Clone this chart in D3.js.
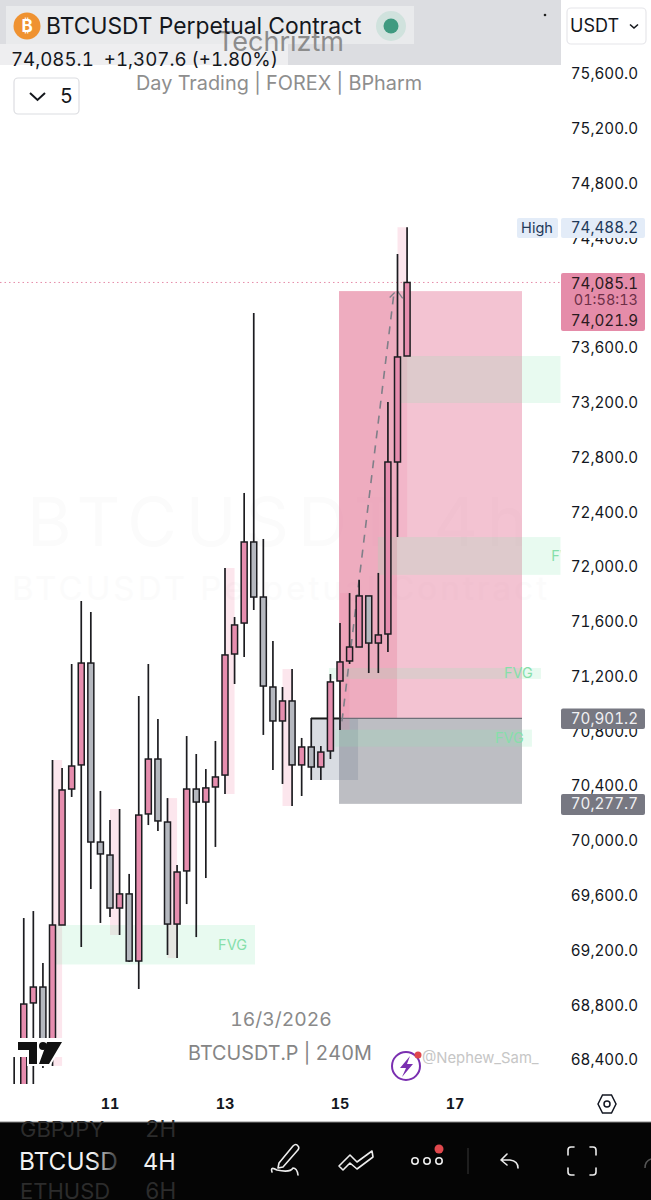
<!DOCTYPE html>
<html><head><meta charset="utf-8">
<script src="https://cdn.jsdelivr.net/npm/d3@7"></script>
<style>html,body{margin:0;padding:0;background:#fff}svg{display:block}text{font-family:Inter,"Liberation Sans",sans-serif;font-feature-settings:"tnum" 1}</style>
</head><body><svg id="c" width="651" height="1200"></svg>
<script>
const slots=[-10,-9,-8,-7,-6,-5,-4,-3,-2,-1,0,1,2,3,4,5,6,7,8,9,10,11,12,13,14,15,16,17,18,19,20,21,22,23,24,25,26,27,28,29,30,31];
const opens=[68152,68115,68824,68940,68495,69393,70386,70562,71306,69999,69904,69517,69620,69130,70204,70605,70145,69400,69788,70386,70291,70401,70488,71372,71598,72190,71788,71131,70883,71029,70562,70693,70547,70664,71175,71321,71423,71796,71452,71518,72774,73548];
const highs=[68429,69444,69495,69116,70598,70540,71299,71759,71679,70372,70160,70240,69766,71065,71299,70897,70320,69831,70773,70642,70532,70737,72000,71642,72548,73862,72212,71467,71131,71262,70759,70905,70700,71226,71598,71817,71912,71796,71964,73212,74293,74488.2];
const lows=[67969,67969,68115,68349,68364,69393,70328,69233,69656,69408,69452,69320,69123,68926,70123,70080,69174,69152,69546,69305,69736,69963,70350,71153,71350,71693,70781,70525,70423,70262,70335,70452,70452,70605,70817,71299,71423,71233,71233,71387,72226,73548];
const closes=[68042,68816,68940,68517,69393,70379,70554,71306,69999,69912,69517,69620,69130,70196,70605,70153,69400,69780,70386,70291,70394,70474,71365,71584,72190,71788,71138,70883,71029,70562,70693,70547,70656,71168,71314,71423,71796,71452,71511,72774,73541,74085.1];

const priceTicks=[75600,75200,74800,74400,73600,73200,72800,72400,72000,71600,71200,70800,70400,70000,69600,69200,68800,68400];
const dayTicks=[[0,"11"],[12,"13"],[24,"15"],[36,"17"]];
const highlightBands=[[-6,-5,70598,68364],[0,1,70240,69320],[6,7,70320,69152],[12,13,72000,70350],[18,19,71262,70262],[24,25,71817,70817],[30,31,74488.2,72226]];
const fvgZones=[[-5.74,15.13,69393,69105,"FVG"],[22.85,44.97,71270,71190,"FVG"],[23.5,44.03,70820,70695,"FVG"],[29.95,47.5,73548,73205,""],[27.95,49.9,72226,71950,"FVG"]];
const profitZone=[23.9,42.99,74021.9,70901.2];
const profitInner=[23.9,29.95,74021.9,70901.2];
const stopZone=[23.9,42.99,70901.2,70277.7];
const entryZone=[20.97,25.88,70901.2,70452];
const entryLine=[20.97,23.9,70901.2];
const entryLineLong=[23.9,42.99,70901.2];
const pathPoints=[[24.2,70880],[29.6,73990]];
const lastPrice=74085.1, highLabel="74,488.2";

const svg=d3.select("#c");
const x=d3.scaleLinear().domain([0,12]).range([110,225]);
const y=d3.scaleLinear().domain([75600,68400]).range([75,1061]);
const defs=svg.append("defs");
defs.append("clipPath").attr("id","plot").append("rect").attr("width",560.5).attr("height",1084);
const fade=defs.append("linearGradient").attr("id","fade").attr("x1",0).attr("x2",1);
fade.append("stop").attr("offset",.75).attr("stop-color","#f2f2f2");
fade.append("stop").attr("offset",1).attr("stop-color","#333");

const plot=svg.append("g").attr("clip-path","url(#plot)");
// watermark
plot.append("text").attr("x",27).attr("y",546).attr("font-size",68).attr("fill","#fbfbfb").text("BTCUSDT 4h").attr("textLength",500);
plot.append("text").attr("x",12).attr("y",600).attr("font-size",33).attr("fill","#fbfbfb").text("BTCUSDT Perpetual Contract").attr("textLength",535);

const box=(g,b,fill)=>g.append("rect").attr("x",x(b[0])).attr("width",x(b[1])-x(b[0])).attr("y",y(b[2])).attr("height",y(b[3])-y(b[2])).attr("fill",fill);
box(plot,profitZone,"rgba(229,128,159,.47)");
box(plot,profitInner,"rgba(229,128,159,.35)");
box(plot,stopZone,"#bdbec3");
box(plot,entryZone,"rgba(120,130,150,.28)");
plot.append("g").selectAll("rect").data(highlightBands).join("rect")
 .attr("x",d=>x(d[0])).attr("width",d=>x(d[1])-x(d[0])).attr("y",d=>y(d[2])).attr("height",d=>y(d[3])-y(d[2])).attr("fill","rgba(238,130,165,.2)");
plot.append("g").selectAll("rect").data(fvgZones).join("rect")
 .attr("x",d=>x(d[0])).attr("width",d=>x(d[1])-x(d[0])).attr("y",d=>y(d[2])).attr("height",d=>y(d[3])-y(d[2])).attr("fill","rgba(140,230,180,.2)");
plot.append("g").selectAll("text").data(fvgZones).join("text")
 .attr("x",d=>x(d[1])-8).attr("y",d=>(y(d[2])+y(d[3]))/2+5).attr("text-anchor","end").attr("font-size",14.5).attr("fill","#86dfaa").text(d=>d[4]);
// entry lines
plot.append("line").attr("x1",x(entryLineLong[0])).attr("x2",x(entryLineLong[1])).attr("y1",y(entryLineLong[2])).attr("y2",y(entryLineLong[2])).attr("stroke","#6e7079").attr("stroke-width",1.3);
plot.append("line").attr("x1",x(entryLine[0])).attr("x2",x(entryLine[1])).attr("y1",y(entryLine[2])).attr("y2",y(entryLine[2])).attr("stroke","#1a1a1a").attr("stroke-width",2);
// dashed projection
plot.append("path").attr("d",d3.line().x(d=>x(d[0])).y(d=>y(d[1]))(pathPoints)).attr("fill","none").attr("stroke","#7f7f88").attr("stroke-width",1.6).attr("stroke-dasharray","8 7");
const tip=pathPoints[1];
plot.append("path").attr("d",`M${x(tip[0])-4},${y(tip[1])+2} L${x(tip[0])+1},${y(tip[1])-3} M${x(tip[0])+4},${y(tip[1])-4} L${x(tip[0])+9},${y(tip[1])+3}`).attr("fill","none").attr("stroke","#7f7f88").attr("stroke-width",1.3);
// last price dotted
plot.append("line").attr("x1",0).attr("x2",561).attr("y1",y(lastPrice)).attr("y2",y(lastPrice)).attr("stroke","#e58ca9").attr("stroke-width",1).attr("stroke-dasharray","1.5 3");
// candles
const candles=slots.map((s,i)=>({s,o:opens[i],h:highs[i],l:lows[i],c:closes[i]}));
const cg=plot.append("g");
cg.selectAll("line").data(candles).join("line").attr("x1",d=>x(d.s)).attr("x2",d=>x(d.s)).attr("y1",d=>y(d.h)).attr("y2",d=>y(d.l)).attr("stroke","#1c1c20").attr("stroke-width",1.7);
cg.selectAll("rect").data(candles).join("rect")
 .attr("x",d=>x(d.s)-3).attr("width",6).attr("y",d=>y(Math.max(d.o,d.c))).attr("height",d=>Math.abs(y(d.o)-y(d.c)))
 .attr("fill",d=>d.c>=d.o?"#e68dae":"#b5b8bf").attr("stroke","#1c1c20").attr("stroke-width",1.5);
svg.append("rect").attr("x",0).attr("y",1084).attr("width",561).attr("height",38).attr("fill","#fff");

// TV logo
const logo=svg.append("g");
logo.append("rect").attr("x",14).attr("y",1038).attr("width",52).attr("height",19).attr("fill","#fff");
const lp="M18,1042H37V1064H29V1050H18Z M47,1042H62L49,1064H39Z";
logo.append("path").attr("d",lp).attr("fill","none").attr("stroke","#fff").attr("stroke-width",4);
logo.append("circle").attr("cx",43).attr("cy",1046).attr("r",6).attr("fill","#fff");
logo.append("path").attr("d",lp).attr("fill","#111");
logo.append("circle").attr("cx",43).attr("cy",1046).attr("r",4).attr("fill","#111");

// centre texts
const T=(xx,yy,s,size,fill,anchor="start",extra={})=>{const t=svg.append("text").attr("x",xx).attr("y",yy).attr("font-size",size).attr("fill",fill).attr("text-anchor",anchor).text(s);for(const k in extra)t.attr(k,extra[k]);return t;};
T(281,1026,"16/3/2026",19.3,"#8a8a8a","middle");
T(280,1060,"BTCUSDT.P | 240M",19.8,"#858585","middle");
T(422,1063,"@Nephew_Sam_",14.8,"#c6c6c6");
svg.append("circle").attr("cx",406).attr("cy",1066).attr("r",14).attr("fill","none").attr("stroke","#7a2fb0").attr("stroke-width",2);
svg.append("path").attr("d","M410,1056L400,1068H406L402,1077L413,1064H407Z").attr("fill","#7a2fb0");
svg.append("circle").attr("cx",418).attr("cy",1055).attr("r",3.5).attr("fill","#e0484d");

// price axis
const yAxis=svg.append("g").attr("transform","translate(638,-1)").call(d3.axisRight(y).tickValues(priceTicks).tickSize(0).tickPadding(0).tickFormat(d=>d3.format(",.1f")(d)));
yAxis.select(".domain").remove();
yAxis.selectAll("text").attr("x",0).attr("text-anchor","end").attr("font-size",15.2).attr("fill","#131722");
// time axis
const xAxis=svg.append("g").attr("transform","translate(-0.5,1104)").call(d3.axisBottom(x).tickValues(dayTicks.map(d=>d[0])).tickSize(0).tickPadding(0).tickFormat((d,i)=>dayTicks[i][1]));
xAxis.select(".domain").remove();
xAxis.selectAll("text").attr("y",0).attr("dy","0.36em").attr("font-size",14.5).attr("font-weight",700).attr("fill","#131722");

// price tags
const tag=(x0,y0,w,h,fill)=>svg.append("rect").attr("x",x0).attr("y",y0).attr("width",w).attr("height",h).attr("rx",2).attr("fill",fill);
tag(517,218,41,20,"#e3ecf8");tag(561,218,84,20,"#e3ecf8");
T(537,233,"High",14.5,"#1f3a5a","middle");
T(638,233,highLabel,15.2,"#1f3a5a","end");
tag(561,273,84,58,"#e58ca9");
T(638,289,d3.format(",.1f")(lastPrice),15.2,"#2a1a20","end");
T(638,305,"01:58:13",14.5,"#6e3048","end");
T(638,326,"74,021.9",15.2,"#2a1a20","end");
tag(561,708.5,84,20.5,"#777882");
T(638,724,"70,901.2",15.2,"#f0f0f2","end");
tag(561,794,84,21,"#777882");
T(638,809,"70,277.7",15.2,"#f0f0f2","end");
// hex settings
svg.append("path").attr("d","M598,1104L602.5,1095H611.5L616,1104L611.5,1113H602.5Z").attr("fill","none").attr("stroke","#131722").attr("stroke-width",1.5);
svg.append("circle").attr("cx",607).attr("cy",1104).attr("r",3).attr("fill","none").attr("stroke","#131722").attr("stroke-width",1.5);

// header
svg.append("rect").attr("width",561).attr("height",65).attr("fill","#dcdde1");
svg.append("rect").attr("y",44).attr("width",288).attr("height",21).attr("fill","#eeeef0");
svg.append("rect").attr("x",6).attr("y",6).attr("width",408).attr("height",38).attr("fill","#e9eaec");
T(217,51,"Techriztm",27,"#8c8c8c");
svg.append("circle").attr("cx",27).attr("cy",26).attr("r",13.5).attr("fill","#ef9231");
T(27,32,"₿",17,"#fff","middle",{"font-weight":700,"font-family":"DejaVu Sans"});
T(46,34,"BTCUSDT Perpetual Contract",22.85,"#14171c");
svg.append("circle").attr("cx",391).attr("cy",26).attr("r",15).attr("fill","#d0e2dd");
svg.append("circle").attr("cx",391).attr("cy",26).attr("r",7.5).attr("fill","#3f9a80");
T(11,66,"74,085.1  +1,307.6 (+1.80%)",18.7,"#14171c").style("white-space","pre");
svg.append("circle").attr("cx",545).attr("cy",15).attr("r",1.3).attr("fill","#222");
T(136,90,"Day Trading | FOREX | BPharm",19.85,"#8e8e8e");
svg.append("rect").attr("x",14).attr("y",78).attr("width",65).attr("height",36).attr("rx",4).attr("fill","#fff").attr("stroke","#dcdde1").attr("stroke-width",1.2);
svg.append("path").attr("d","M30,93L37.5,100L45,93").attr("fill","none").attr("stroke","#14171c").attr("stroke-width",2);
T(60,103,"5",20,"#14171c");
svg.append("rect").attr("x",567).attr("y",8).attr("width",79).attr("height",36).attr("rx",4).attr("fill","#fff").attr("stroke","#e6e6ea").attr("stroke-width",1.2);
T(570,32,"USDT",18,"#14171c");
svg.append("path").attr("d","M630,24.5L634,28L638,24.5").attr("fill","none").attr("stroke","#14171c").attr("stroke-width",1.6);

// bottom toolbar
svg.append("rect").attr("y",1122).attr("width",651).attr("height",78).attr("fill","#050505");
svg.append("rect").attr("y",1121.5).attr("width",651).attr("height",1).attr("fill","#8a8a8a");
T(20,1137,"GBPJPY",22,"#2c2c2c");T(145,1137,"2H",22.5,"#2c2c2c");
T(19,1170,"BTCUSD",24.4,"url(#fade)");T(143,1170,"4H",23.5,"#f0f0f0");
T(20,1199,"ETHUSD",22,"#2c2c2c");T(145,1199,"6H",22.5,"#2c2c2c");
const ic=svg.append("g").attr("fill","none").attr("stroke","#ececec").attr("stroke-width",1.6).attr("stroke-linecap","round").attr("stroke-linejoin","round");
ic.append("path").attr("d","M279,1163L293,1146Q296,1143 298,1146Q300,1148 297,1151L283,1167L278,1168Z M272,1172Q270,1166 277,1170Q290,1173 293,1168Q297,1168 298,1175");
ic.append("path").attr("d","M339,1166L350,1155L357,1162L372,1151M343,1170L350,1163L357,1169L373,1157M339,1166L343,1170M372,1151L373,1157");
ic.append("circle").attr("cx",415).attr("cy",1161).attr("r",3.2);
ic.append("circle").attr("cx",427).attr("cy",1161).attr("r",3.2);
ic.append("circle").attr("cx",439).attr("cy",1161).attr("r",3.2);
svg.append("circle").attr("cx",439).attr("cy",1149).attr("r",4.5).attr("fill","#e0484d");
svg.append("line").attr("x1",468).attr("x2",468).attr("y1",1148).attr("y2",1174).attr("stroke","#2a2a2a").attr("stroke-width",1.4);
ic.append("path").attr("d","M507,1154L501,1160L507,1165M501,1160H510Q518,1161 518,1168");
ic.append("path").attr("d","M568,1155V1150Q568,1147 571,1147H574M590,1147H593Q596,1147 596,1150V1155M596,1168V1172Q596,1175 593,1175H590M574,1175H571Q568,1175 568,1172V1168");
svg.append("path").attr("d","M645,1168Q645,1161 651,1159").attr("fill","none").attr("stroke","#555").attr("stroke-width",1.5);
</script></body></html>
